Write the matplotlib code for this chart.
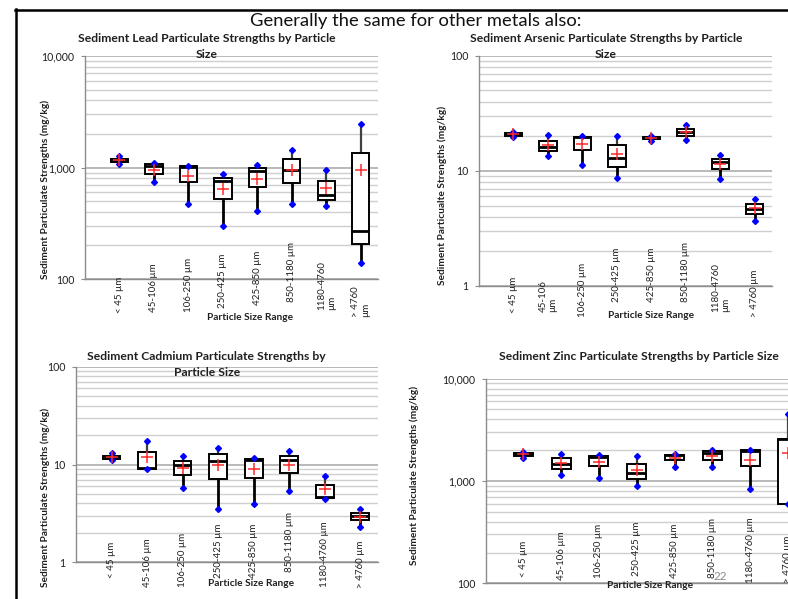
import matplotlib
matplotlib.use("Agg")
import matplotlib.pyplot as plt
import matplotlib.ticker as mticker
import matplotlib.transforms as mtrans
from matplotlib.lines import Line2D

plt.rcParams['font.family'] = ['Lato', 'DejaVu Sans']

# ---------------- data ----------------
categories = ["< 45 µm", "45-106 µm", "106-250 µm", "250-425 µm",
              "425-850 µm", "850-1180 µm", "1180-4760 µm", "> 4760 µm"]
pb_labels = ["< 45 µm", "45-106 µm", "106-250 µm", "250-425 µm",
             "425-850 µm", "850-1180 µm", "1180-4760\nµm", "> 4760\nµm"]
as_labels = ["< 45 µm", "45-106\nµm", "106-250 µm", "250-425 µm",
             "425-850 µm", "850-1180 µm", "1180-4760\nµm", "> 4760 µm"]
cd_labels = categories
zn_labels = categories

pb_min = [1086, 738, 475, 298, 406, 472, 456, 138]
pb_q1 = [1109, 876, 743, 527, 662, 719, 506, 204]
pb_med = [1146, 1027, 1012, 758, 932, 959, 565, 270]
pb_q3 = [1204, 1064, 1021, 807, 986, 1194, 758, 1352]
pb_max = [1271, 1100, 1033, 876, 1055, 1450, 959, 2431]
pb_mean = [1163, 959, 841, 643, 791, 959, 656, 959]

as_min = [19.5, 13.5, 11.3, 8.64, 18.3, 18.7, 8.57, 3.68]
as_q1 = [20.2, 14.8, 15.3, 10.8, 18.8, 20.2, 10.35, 4.23]
as_med = [20.8, 16.2, 19.5, 13.05, 19.3, 21.8, 12.0, 4.71]
as_q3 = [21.2, 18.2, 19.6, 16.7, 19.7, 23.3, 12.8, 5.2]
as_max = [21.7, 20.4, 20.2, 20.2, 20.1, 24.9, 13.6, 5.68]
as_mean = [20.9, 16.8, 17.2, 14.05, 19.2, 21.8, 11.5, 4.75]

cd_min = [11.14, 9.0, 5.69, 3.49, 3.9, 5.33, 4.45, 2.28]
cd_q1 = [11.25, 9.02, 7.78, 7.19, 7.36, 8.2, 4.52, 2.69]
cd_med = [11.6, 9.17, 9.84, 10.9, 11.06, 11.06, 4.6, 2.96]
cd_q3 = [12.16, 13.3, 10.9, 12.8, 11.25, 12.36, 6.1, 3.2]
cd_max = [13.05, 17.4, 12.36, 14.8, 11.6, 13.6, 7.59, 3.49]
cd_mean = [11.9, 11.9, 9.23, 9.77, 8.89, 10.0, 5.63, 2.9]

zn_min = [1663, 1134, 1060, 886, 1380, 1370, 835, 598]
zn_q1 = [1755, 1310, 1389, 1046, 1590, 1616, 1389, 600]
zn_med = [1849, 1476, 1728, 1205, 1795, 1891, 1978, 2550]
zn_q3 = [1878, 1663, 1755, 1466, 1807, 1978, 1992, 2574]
zn_max = [1934, 1849, 1795, 1740, 1836, 2023, 2023, 4477]
zn_mean = [1820, 1486, 1520, 1281, 1663, 1755, 1605, 1890]

pb_yticks = [100, 1000, 10000]
pb_yticklabels = ["100", "1,000", "10,000"]
as_yticks = [1, 10, 100]
as_yticklabels = ["1", "10", "100"]

slide_title = "Generally the same for other metals also:"

# ---------------- layout (pixel positions, not data) ----------------
W, H = 788, 599
pb_label_bottoms = [313, 312, 312, 308, 305, 302, 310, 317]
as_label_bottoms = [313, 312, 317, 302, 302, 302, 312, 317]
cd_label_bottoms = [578, 587, 587, 578, 578, 572, 587, 588]
zn_label_bottoms = [577, 580, 578, 576, 578, 578, 583, 583]

fig = plt.figure(figsize=(W / 100, H / 100), dpi=100)


def rect(l, t, r, b):
    return [l / W, 1 - b / H, (r - l) / W, (b - t) / H]


def px(x, y):
    return x / W, 1 - y / H


def panel(r, mins, q1s, meds, q3s, maxs, means, labels, ylim, yticks,
          yticklabels, label_bottoms):
    ax = fig.add_axes(r)
    pos = list(range(len(labels)))
    stats = []
    for i in pos:
        stats.append(dict(whislo=mins[i], q1=q1s[i], med=meds[i],
                          q3=q3s[i], whishi=maxs[i], mean=means[i],
                          fliers=[]))
    res = ax.bxp(stats, positions=pos, widths=0.5, showcaps=False,
                 showmeans=True, patch_artist=True, showfliers=False,
                 boxprops=dict(facecolor='white', edgecolor='black',
                               linewidth=1.4),
                 medianprops=dict(color='black', linewidth=2.0),
                 whiskerprops=dict(color='black', linewidth=2.0),
                 meanprops=dict(marker='+', markeredgecolor='#ff2a2a',
                                markersize=9, markeredgewidth=1.1))
    for k, w in enumerate(res['whiskers']):
        if k % 2 == 1:
            w.set_color('#404040')
            w.set_linewidth(1.6)
    for b in res['boxes']:
        b.set_zorder(2.5)
    for m in res['medians']:
        m.set_zorder(2.6)
    for m in res['means']:
        m.set_zorder(4)
    ax.plot(pos, mins, linestyle='none', marker='D', markersize=3.0,
            color='#0000ff', zorder=3.5)
    ax.plot(pos, maxs, linestyle='none', marker='D', markersize=3.0,
            color='#0000ff', zorder=3.5)

    ax.set_yscale('log')
    ax.set_ylim(*ylim)
    ax.set_xlim(-1.0, 7.5)
    ax.yaxis.set_minor_locator(mticker.LogLocator(base=10, subs=range(2, 10)))
    ax.yaxis.set_minor_formatter(mticker.NullFormatter())
    ax.set_yticks(yticks)
    ax.set_yticklabels(yticklabels, fontsize=7.6, color='#202020')
    ax.set_axisbelow(True)
    ax.yaxis.grid(True, which='major', color='#a6a6a6', linewidth=1.1)
    ax.yaxis.grid(True, which='minor', color='#cfcfcf', linewidth=1.0)
    ax.tick_params(axis='y', which='major', length=3, width=0.8,
                   color='#8c8c8c', pad=4.5)
    ax.tick_params(axis='y', which='minor', length=0)
    ax.set_xticks([])
    for s in ['top', 'right']:
        ax.spines[s].set_visible(False)
    for s in ['left', 'bottom']:
        ax.spines[s].set_color('#8c8c8c')
        ax.spines[s].set_linewidth(1.0)
    # category labels (rotated), bottoms placed per label
    bbox = ax.get_position()
    bottom_px = (1 - bbox.y0) * H
    height_px = bbox.height * H
    trans = mtrans.blended_transform_factory(ax.transData, ax.transAxes)
    for i, lab in enumerate(labels):
        yfrac = (bottom_px - label_bottoms[i]) / height_px
        ax.text(pos[i], yfrac, lab, transform=trans, rotation=90,
                ha='center', va='bottom', multialignment='left',
                fontsize=7.0, color='#202020', linespacing=1.1,
                clip_on=False, zorder=5)
    return ax


ax1 = panel(rect(85, 56, 378, 279), pb_min, pb_q1, pb_med, pb_q3, pb_max,
            pb_mean, pb_labels, (100, 10000), pb_yticks, pb_yticklabels,
            pb_label_bottoms)
ax2 = panel(rect(479, 55.7, 772, 286), as_min, as_q1, as_med, as_q3, as_max,
            as_mean, as_labels, (1, 100), as_yticks, as_yticklabels,
            as_label_bottoms)
ax3 = panel(rect(76, 366.7, 378, 562.3), cd_min, cd_q1, cd_med, cd_q3, cd_max,
            cd_mean, cd_labels, (1, 100), as_yticks, as_yticklabels,
            cd_label_bottoms)
ax4 = panel(rect(485.5, 378.7, 806.8, 583.3), zn_min, zn_q1, zn_med, zn_q3,
            zn_max, zn_mean, zn_labels, (100, 10000), pb_yticks,
            pb_yticklabels, zn_label_bottoms)

# ---------------- texts ----------------
tkw = dict(fontsize=8.7, fontweight='bold', ha='center', va='center',
           color='#202020')
fig.text(*px(206.5, 38), "Sediment Lead Particulate Strengths by Particle", **tkw)
fig.text(*px(207, 54), "Size", **tkw)
fig.text(*px(606.5, 38), "Sediment Arsenic Particulate Strengths by Particle", **tkw)
fig.text(*px(606, 54), "Size", **tkw)
fig.text(*px(206.5, 356), "Sediment Cadmium Particulate Strengths by", **tkw)
fig.text(*px(207, 372), "Particle Size", **tkw)
fig.text(*px(639, 356), "Sediment Zinc Particulate Strengths by Particle Size", **tkw)

ykw = dict(fontsize=7.3, fontweight='bold', ha='center', va='center',
           rotation=90, color='#202020')
fig.text(*px(45, 189), "Sediment Particulate Strengths (mg/kg)", **ykw)
fig.text(*px(442, 195.5), "Sediment Particualte Strengths (mg/kg)", **ykw)
fig.text(*px(45, 497), "Sediment Particulate Strengths (mg/kg)", **ykw)
fig.text(*px(414.7, 475), "Sediment Particulate Strengths (mg/kg)", **ykw)

xkw = dict(fontsize=7.3, fontweight='bold', ha='center', va='center',
           color='#202020')
fig.text(*px(250, 317), "Particle Size Range", **xkw)
fig.text(*px(651.5, 315.7), "Particle Size Range", **xkw)
fig.text(*px(251, 583), "Particle Size Range", **xkw)
fig.text(*px(650, 586), "Particle Size Range", **xkw)

fig.text(*px(416, 21), slide_title, fontsize=13.2, ha='center', va='center',
         color='#111111')
fig.text(*px(720.7, 577), "22", fontsize=8.5, ha='center', va='center',
         color='#8c8c8c')

# slide frame lines
fig.add_artist(Line2D([15 / W, 1.0], [1 - 9.5 / H, 1 - 9.5 / H],
                      transform=fig.transFigure, color='black', linewidth=1.8))
fig.add_artist(Line2D([16.2 / W, 16.2 / W], [1 - 8.5 / H, 0.0],
                      transform=fig.transFigure, color='black', linewidth=1.8))

fig.savefig("out.png", dpi=100)
